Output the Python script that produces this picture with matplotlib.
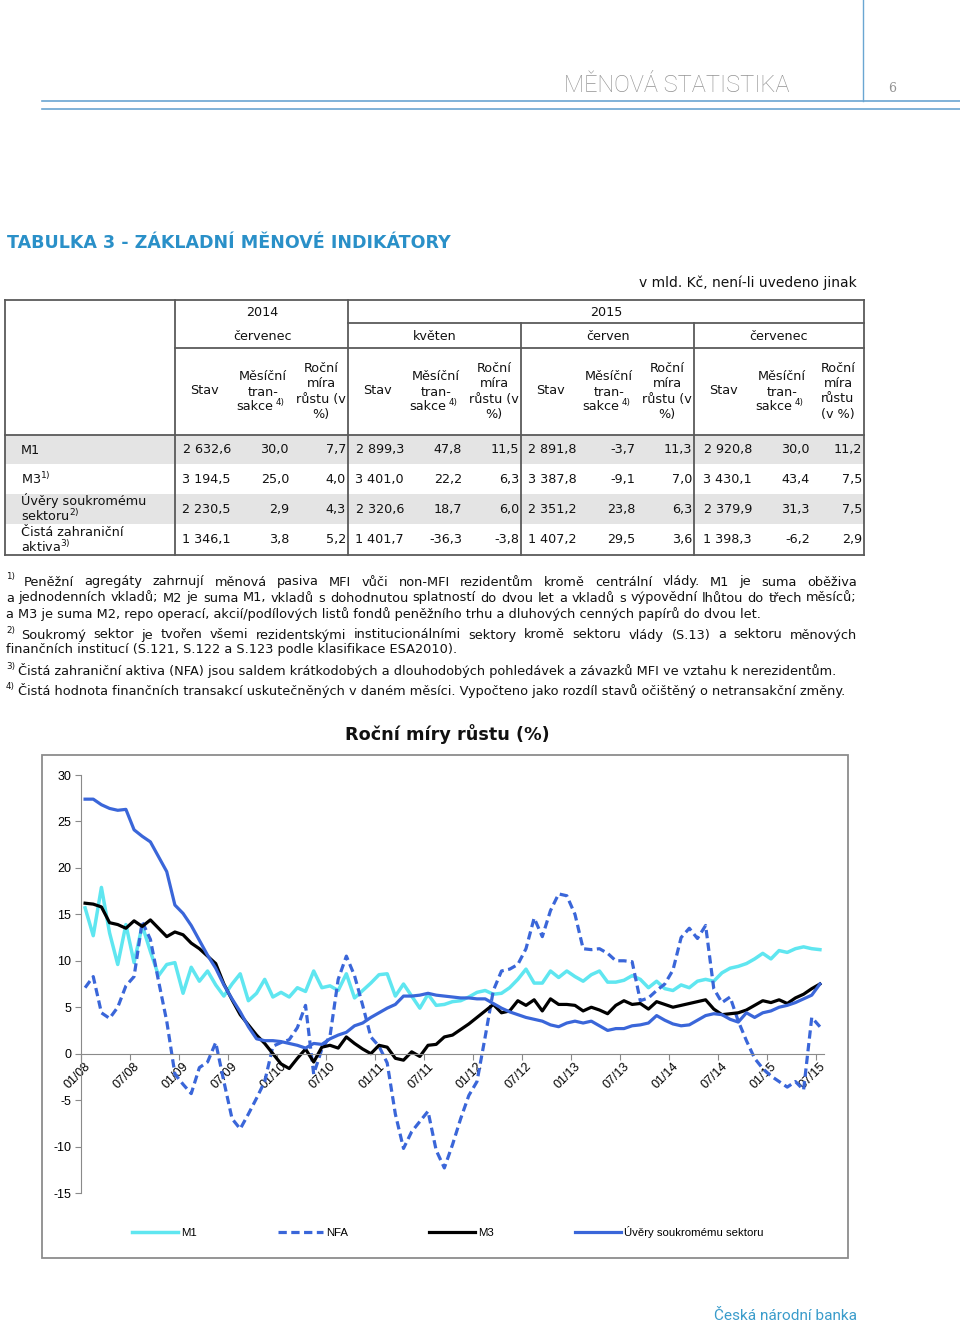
import matplotlib
matplotlib.use('Agg')
import matplotlib.pyplot as plt
import matplotlib.transforms as mtransforms
from matplotlib.patches import Rectangle
import numpy as np

plt.rcParams['axes.unicode_minus'] = False

# ---- table data (mld. Kc) ----
years = ['2014', '2015']
months = ['červenec', 'květen', 'červen', 'červenec']
row_m1 = ['2 632,6', '30,0', '7,7', '2 899,3', '47,8', '11,5', '2 891,8', '-3,7', '11,3', '2 920,8', '30,0', '11,2']
row_m3 = ['3 194,5', '25,0', '4,0', '3 401,0', '22,2', '6,3', '3 387,8', '-9,1', '7,0', '3 430,1', '43,4', '7,5']
row_uvery = ['2 230,5', '2,9', '4,3', '2 320,6', '18,7', '6,0', '2 351,2', '23,8', '6,3', '2 379,9', '31,3', '7,5']
row_nfa = ['1 346,1', '3,8', '5,2', '1 401,7', '-36,3', '-3,8', '1 407,2', '29,5', '3,6', '1 398,3', '-6,2', '2,9']
row_labels = [['M1'], ['M3$^{1)}$'], ['Úvěry soukromému', 'sektoru$^{2)}$'], ['Čistá zahraniční', 'aktiva$^{3)}$']]

# ---- chart data: annual growth rates, monthly 01/2008 - 07/2015 ----
xtick_labels = ['01/08', '07/08', '01/09', '07/09', '01/10', '07/10', '01/11', '07/11',
                '01/12', '07/12', '01/13', '07/13', '01/14', '07/14', '01/15', '07/15']
m1 = [15.7, 12.7, 17.9, 13.0, 9.6, 13.9, 9.8, 13.8, 11.0, 8.4, 9.6, 9.8, 6.5, 9.3, 7.8, 8.9,
      7.4, 6.2, 7.5, 8.6, 5.7, 6.5, 8.0, 6.1, 6.6, 6.1, 7.1, 6.7, 8.9, 7.1, 7.3, 6.8,
      8.6, 6.0, 6.8, 7.6, 8.5, 8.6, 6.2, 7.5, 6.2, 4.9, 6.4, 5.2, 5.3, 5.6, 5.7, 6.1,
      6.6, 6.8, 6.4, 6.5, 7.1, 8.0, 9.1, 7.6, 7.6, 8.9, 8.2, 8.9, 8.3, 7.8, 8.5, 8.9,
      7.7, 7.7, 7.9, 8.4, 8.0, 7.1, 7.8, 7.0, 6.8, 7.4, 7.1, 7.8, 8.0, 7.8, 8.7, 9.2,
      9.4, 9.7, 10.2, 10.8, 10.2, 11.1, 10.9, 11.3, 11.5, 11.3, 11.2]
nfa = [7.1, 8.3, 4.4, 3.8, 5.0, 7.3, 8.3, 14.2, 12.3, 7.8, 3.5, -2.2, -3.3, -4.3, -1.5, -0.9,
       1.2, -3.0, -7.0, -8.1, -6.5, -4.8, -3.0, 0.8, 1.2, 1.5, 2.8, 5.2, -2.2, 0.5, 1.9, 8.0,
       10.5, 8.4, 5.2, 1.8, 0.8, -1.0, -6.5, -10.2, -8.4, -7.3, -6.2, -10.4, -12.3, -9.8, -7.0, -4.5,
       -3.0, 1.8, 6.8, 8.9, 9.1, 9.6, 11.3, 14.6, 12.6, 15.4, 17.2, 17.0, 15.0, 11.3, 11.2, 11.3,
       10.8, 10.0, 10.0, 9.9, 5.7, 6.0, 6.8, 7.5, 9.0, 12.5, 13.5, 12.4, 13.8, 7.0, 5.5, 6.1,
       3.5, 1.4, -0.5, -1.6, -2.4, -3.0, -3.6, -3.0, -3.9, 3.9, 2.9]
m3 = [16.2, 16.1, 15.8, 14.1, 13.9, 13.5, 14.3, 13.7, 14.4, 13.5, 12.6, 13.1, 12.8, 11.9, 11.3, 10.5,
      9.7, 7.5, 5.8, 4.2, 3.1, 2.0, 1.1, 0.0, -1.1, -1.6, -0.5, 0.5, -0.9, 0.7, 0.9, 0.6,
      1.8, 1.1, 0.5, 0.0, 0.9, 0.7, -0.5, -0.7, 0.2, -0.3, 0.9, 1.0, 1.8, 2.0, 2.6, 3.2,
      3.9, 4.6, 5.3, 4.4, 4.6, 5.7, 5.2, 5.8, 4.6, 5.9, 5.3, 5.3, 5.2, 4.6, 5.0, 4.7,
      4.3, 5.2, 5.7, 5.3, 5.4, 4.8, 5.6, 5.3, 5.0, 5.2, 5.4, 5.6, 5.8, 4.8, 4.2, 4.3,
      4.4, 4.7, 5.2, 5.7, 5.5, 5.8, 5.4, 6.0, 6.4, 7.0, 7.5]
uvery = [27.4, 27.4, 26.8, 26.4, 26.2, 26.3, 24.1, 23.4, 22.8, 21.2, 19.6, 16.0, 15.1, 13.8, 12.2, 10.6,
         9.2, 7.4, 5.9, 4.5, 2.9, 1.6, 1.4, 1.4, 1.3, 1.1, 0.9, 0.6, 1.1, 1.0, 1.6, 2.0,
         2.3, 3.0, 3.3, 3.9, 4.4, 4.9, 5.3, 6.2, 6.2, 6.3, 6.5, 6.3, 6.2, 6.1, 6.0, 6.0,
         5.9, 5.9, 5.4, 4.9, 4.5, 4.2, 3.9, 3.7, 3.5, 3.1, 2.9, 3.3, 3.5, 3.3, 3.5, 3.0,
         2.5, 2.7, 2.7, 3.0, 3.1, 3.3, 4.1, 3.6, 3.2, 3.0, 3.1, 3.6, 4.1, 4.3, 4.2, 3.7,
         3.4, 4.4, 3.9, 4.4, 4.6, 5.0, 5.2, 5.5, 5.9, 6.3, 7.5]

fn1 = ['Peněžní agregáty zahrnují měnová pasiva MFI vůči non-MFI rezidentům kromě centrální vlády. M1 je suma oběživa',
       'a jednodenních vkladů; M2 je suma M1, vkladů s dohodnutou splatností do dvou let a vkladů s výpovědní lhůtou do třech měsíců;',
       'a M3 je suma M2, repo operací, akcií/podílových listů fondů peněžního trhu a dluhových cenných papírů do dvou let.']
fn2 = ['Soukromý sektor je tvořen všemi rezidentskými institucionálními sektory kromě sektoru vlády (S.13) a sektoru měnových',
       'finančních institucí (S.121, S.122 a S.123 podle klasifikace ESA2010).']
fn3 = 'Čistá zahraniční aktiva (NFA) jsou saldem krátkodobých a dlouhodobých pohledávek a závazků MFI ve vztahu k nerezidentům.'
fn4 = 'Čistá hodnota finančních transakcí uskutečněných v daném měsíci. Vypočteno jako rozdíl stavů očištěný o netransakční změny.'

fig = plt.figure(figsize=(9.6, 13.25), dpi=100)
rend = fig.canvas.get_renderer()

# full page axes in pixel coordinates
bg = fig.add_axes([0, 0, 1, 1])
bg.set_xlim(0, 960)
bg.set_ylim(1325, 0)
bg.axis('off')

SANS = 'DejaVu Sans'


def text_w(s, **kw):
    t = bg.text(0, 0, s, **kw)
    w = t.get_window_extent(renderer=rend).width
    t.remove()
    return w


def fit_text(x, y, s, width, size=10, **kw):
    w = text_w(s, fontsize=size, **kw)
    return bg.text(x, y, s, fontsize=size * width / w, **kw)


def justified(x0, x1, y, line, fs, **kw):
    words = line.split(' ')
    ws = [text_w(w, fontsize=fs, **kw) for w in words]
    gap = (x1 - x0 - sum(ws)) / (len(words) - 1)
    x = x0
    for w, wd in zip(words, ws):
        bg.text(x, y, w, fontsize=fs, va='center', **kw)
        x += wd + gap


# ---- page header ----
blue_line = '#6aa6d2'
bg.plot([42, 960], [101, 101], color=blue_line, lw=1.2)
bg.plot([42, 960], [109, 109], color=blue_line, lw=1.2)
bg.plot([863, 863], [0, 101], color=blue_line, lw=1.0)
fit_text(789, 86, 'MĚNOVÁ STATISTIKA', 226, family=['Roboto', 'DejaVu Sans'], weight='light',
         color='#939393', ha='right', va='center')
bg.text(892, 89, '6', family='DejaVu Serif', fontsize=9, color='#939393', ha='center', va='center')

fit_text(7, 243, 'TABULKA 3 - ZÁKLADNÍ MĚNOVÉ INDIKÁTORY', 444, family=SANS, weight='bold',
         color='#2a90c8', va='center')
fit_text(857, 283, 'v mld. Kč, není-li uvedeno jinak', 217, family=SANS, color='#111111',
         ha='right', va='center')

# ---- table ----
FS = 9.2
lc = '#5a5a5a'
for y0, y1 in [(435, 464), (494, 524)]:
    bg.add_patch(Rectangle((5, y0), 859, y1 - y0, color='#e4e4e4', lw=0))
for xs, ys in [((5, 864), (300, 300)), ((348, 864), (323, 323)), ((175, 864), (348, 348)),
               ((5, 864), (435, 435)), ((5, 864), (555, 555)),
               ((5, 5), (300, 555)), ((864, 864), (300, 555)), ((175, 175), (300, 555)),
               ((348, 348), (300, 555)), ((521, 521), (323, 555)), ((694, 694), (323, 555))]:
    bg.plot(xs, ys, color=lc, lw=1.3, solid_capstyle='projecting')

tk = dict(family=SANS, fontsize=FS, color='#111111')
bg.text(262, 312, years[0], ha='center', va='center', **tk)
bg.text(606, 312, years[1], ha='center', va='center', **tk)
group_left = [175, 348, 521, 694]
for g, L in enumerate(group_left):
    mid = L + 87 if g < 3 else L + 85
    bg.text(mid, 336, months[g], ha='center', va='center', **tk)
    bg.text(L + 29, 391, 'Stav', ha='center', va='center', **tk)
    mx = L + 88
    bg.text(mx, 376, 'Měsíční', ha='center', va='center', **tk)
    bg.text(mx, 392, 'tran-', ha='center', va='center', **tk)
    bg.text(mx + 10, 407, 'sakce', ha='right', va='center', **tk)
    bg.text(mx + 13, 403, '4)', ha='left', va='center', family=SANS, fontsize=6.3, color='#111111')
    rx = L + 146 if g < 3 else L + 144
    lines = ['Roční', 'míra', 'růstu (v', '%)'] if g < 3 else ['Roční', 'míra', 'růstu', '(v %)']
    for k, s in enumerate(lines):
        bg.text(rx, 368 + k * 15.5, s, ha='center', va='center', **tk)

row_y = [450, 479, 509, 540]
col_right = [(L + 56, L + 114, L + 171) for L in group_left]
col_right[3] = (752, 810, 862)
for r, vals in enumerate([row_m1, row_m3, row_uvery, row_nfa]):
    for g in range(4):
        for c in range(3):
            bg.text(col_right[g][c], row_y[r], vals[g * 3 + c], ha='right', va='center', **tk)
    lab = row_labels[r]
    if len(lab) == 1:
        bg.text(21, row_y[r], lab[0], ha='left', va='center', **tk)
    else:
        bg.text(21, row_y[r] - 8, lab[0], ha='left', va='center', **tk)
        bg.text(21, row_y[r] + 7, lab[1], ha='left', va='center', **tk)

# ---- footnotes ----
fk = dict(family=SANS, color='#111111')
ffs = 9.0 * 818 / text_w(fn3, fontsize=9.0, **fk)
sup = dict(family=SANS, fontsize=6.3, color='#111111', va='center')
bg.text(6, 577, '1)', **sup)
justified(24, 857, 582, fn1[0], ffs, **fk)
justified(6, 857, 598, fn1[1], ffs, **fk)
bg.text(6, 614, fn1[2], fontsize=ffs, va='center', **fk)
bg.text(6, 630, '2)', **sup)
justified(21, 857, 635, fn2[0], ffs, **fk)
bg.text(6, 650, fn2[1], fontsize=ffs, va='center', **fk)
bg.text(6, 666, '3)', **sup)
bg.text(18, 671, fn3, fontsize=ffs, va='center', **fk)
bg.text(6, 686, '4)', **sup)
bg.text(18, 691, fn4, fontsize=ffs, va='center', **fk)

# ---- chart ----
fit_text(447, 734, 'Roční míry růstu (%)', 204, family=SANS, weight='bold', color='#111111',
         ha='center', va='center')
bg.add_patch(Rectangle((42, 755), 806, 503, fill=False, edgecolor='#8c8c8c', lw=1.3))

ax = fig.add_axes([81 / 960, 1 - 1193 / 1325, 743 / 960, 418 / 1325])
ax.patch.set_alpha(0)
x = np.arange(len(m1))
ax.plot(x, m1, color='#5fe6f0', lw=2.5, label='M1')
ax.plot(x, nfa, color='#3a66d9', lw=2.3, linestyle=(0, (2.6, 1.4)), label='NFA')
ax.plot(x, m3, color='black', lw=2.3, label='M3')
ax.plot(x, uvery, color='#3a66d9', lw=2.3, label='Úvěry soukromému sektoru')
ax.set_xlim(-0.5, 90.5)
ax.set_ylim(-15, 30)

ax.spines['top'].set_visible(False)
ax.spines['right'].set_visible(False)
ax.spines['left'].set_color('#8a8a8a')
ax.spines['bottom'].set_color('#8a8a8a')
ax.spines['bottom'].set_position(('data', 0))
ax.set_yticks(range(-15, 31, 5))
ax.set_xticks(np.arange(len(xtick_labels)) * 6 - 0.5)
ax.set_xticklabels(xtick_labels, rotation=45, ha='right', va='top')
ax.tick_params(axis='both', direction='out', length=4, color='#8a8a8a', labelsize=9)
ax.tick_params(axis='y', pad=3)
ax.tick_params(axis='x', pad=1)
for lbl in ax.get_xticklabels() + ax.get_yticklabels():
    lbl.set_family(['Liberation Sans', 'DejaVu Sans'])
off = mtransforms.ScaledTranslation(12 / 100, 0, fig.dpi_scale_trans)
for lbl in ax.get_xticklabels():
    lbl.set_transform(lbl.get_transform() + off)

fig.legend(loc='center left', bbox_to_anchor=(132 / 960, 1 - 1232 / 1325), ncol=4, frameon=False,
           prop={'family': ['Liberation Sans', 'DejaVu Sans'], 'size': 8.2},
           handlelength=4.0, handletextpad=0.3, columnspacing=7.1, borderpad=0, borderaxespad=0)

fit_text(857, 1316, 'Česká národní banka', 143, family=['Roboto', 'DejaVu Sans'],
         color='#3a9ccb', ha='right', va='center')

fig.savefig('out.png', dpi=100)
